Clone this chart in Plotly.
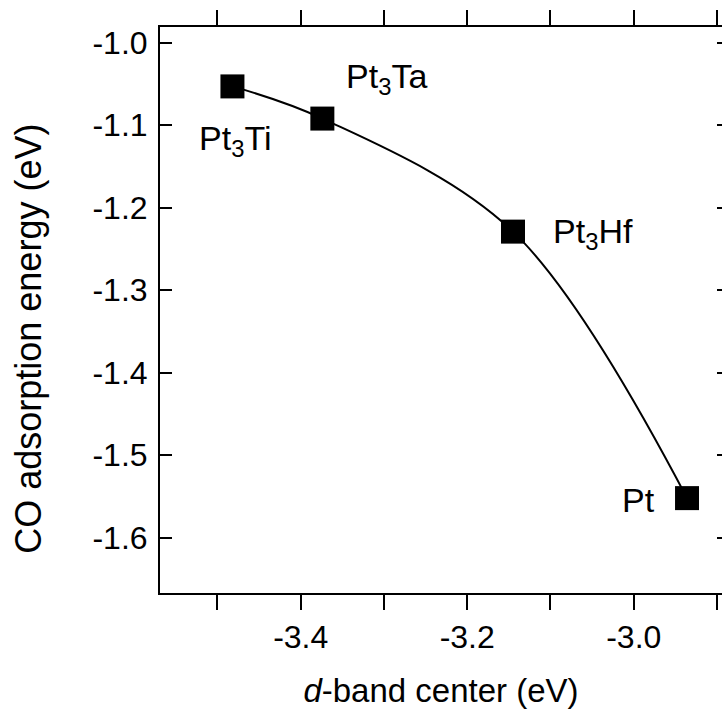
import plotly.graph_objects as go

# Data
materials = ["Pt<sub>3</sub>Ti", "Pt<sub>3</sub>Ta", "Pt<sub>3</sub>Hf", "Pt"]
d_band_center = [-3.482, -3.374, -3.145, -2.936]
co_adsorption = [-1.053, -1.092, -1.229, -1.552]

x_ticks = [-3.4, -3.2, -3.0]
x_tick_labels = ["-3.4", "-3.2", "-3.0"]
y_ticks = [-1.0, -1.1, -1.2, -1.3, -1.4, -1.5, -1.6]
y_tick_labels = ["-1.0", "-1.1", "-1.2", "-1.3", "-1.4", "-1.5", "-1.6"]

x_title = "<i>d</i>-band center (eV)"
y_title = "CO adsorption energy (eV)"

# label placement (pixel offsets from the marker), not data
label_style = [
    dict(xanchor="left", xshift=-35, yshift=-54),
    dict(xanchor="left", xshift=22, yshift=40),
    dict(xanchor="left", xshift=38, yshift=-2),
    dict(xanchor="right", xshift=-30, yshift=-2),
]

FONT = "Liberation Sans, Arial, sans-serif"
FS = 32
LFS = 34
TFS = 36

fig = go.Figure()
fig.add_trace(go.Scatter(
    x=d_band_center, y=co_adsorption, mode="lines",
    line=dict(color="black", width=2, shape="spline", smoothing=1.0),
    hoverinfo="skip", showlegend=False,
))
fig.add_trace(go.Scatter(
    x=d_band_center, y=co_adsorption, mode="markers",
    marker=dict(symbol="square", size=24, color="black", line=dict(width=0)),
    showlegend=False,
))
# invisible trace to anchor the right-hand tick axis
fig.add_trace(go.Scatter(
    x=d_band_center, y=co_adsorption, yaxis="y2", mode="markers",
    marker=dict(opacity=0), hoverinfo="skip", showlegend=False,
))

for name, xv, yv, st in zip(materials, d_band_center, co_adsorption, label_style):
    fig.add_annotation(
        x=xv, y=yv, text=name, showarrow=False,
        font=dict(family=FONT, size=LFS, color="black"),
        yanchor="middle", **st,
    )

# y-axis title as a rotated annotation
fig.add_annotation(
    xref="paper", yref="paper", x=-0.234, y=0.45, text=y_title,
    textangle=-90, showarrow=False, xanchor="center", yanchor="middle",
    font=dict(family=FONT, size=TFS, color="black"),
)

xr = [-3.569, -2.894]
yr = [-1.667, -0.981]

fig.update_layout(
    width=722, height=709,
    margin=dict(l=160, r=0, t=27, b=116),
    paper_bgcolor="white", plot_bgcolor="white",
    font=dict(family=FONT, size=FS, color="black"),
    xaxis=dict(
        range=xr, tickvals=x_ticks, ticktext=x_tick_labels,
        ticks="outside", ticklen=15, tickwidth=2, tickcolor="black",
        showline=True, linewidth=2, linecolor="black", mirror="allticks",
        showgrid=False, zeroline=False,
        minor=dict(dtick=0.1, tick0=-3.5, ticks="outside", ticklen=7,
                   tickwidth=2, tickcolor="black", showgrid=False),
        tickfont=dict(size=FS), ticklabelstandoff=0,
        title=dict(text=x_title, font=dict(size=33), standoff=24),
    ),
    yaxis=dict(
        range=yr, tickvals=y_ticks, ticktext=y_tick_labels,
        ticks="inside", ticklen=12, tickwidth=2, tickcolor="black",
        showline=True, linewidth=2, linecolor="black",
        showgrid=False, zeroline=False,
        tickfont=dict(size=FS), ticklabelstandoff=4,
    ),
    yaxis2=dict(
        range=yr, tickvals=y_ticks, overlaying="y", side="right",
        ticks="inside", ticklen=5, tickwidth=2, tickcolor="black",
        showline=False, showticklabels=False, showgrid=False, zeroline=False,
    ),
)

fig.write_html("out.html", config={"displayModeBar": False},
               post_script="document.body.style.margin='0px';")
